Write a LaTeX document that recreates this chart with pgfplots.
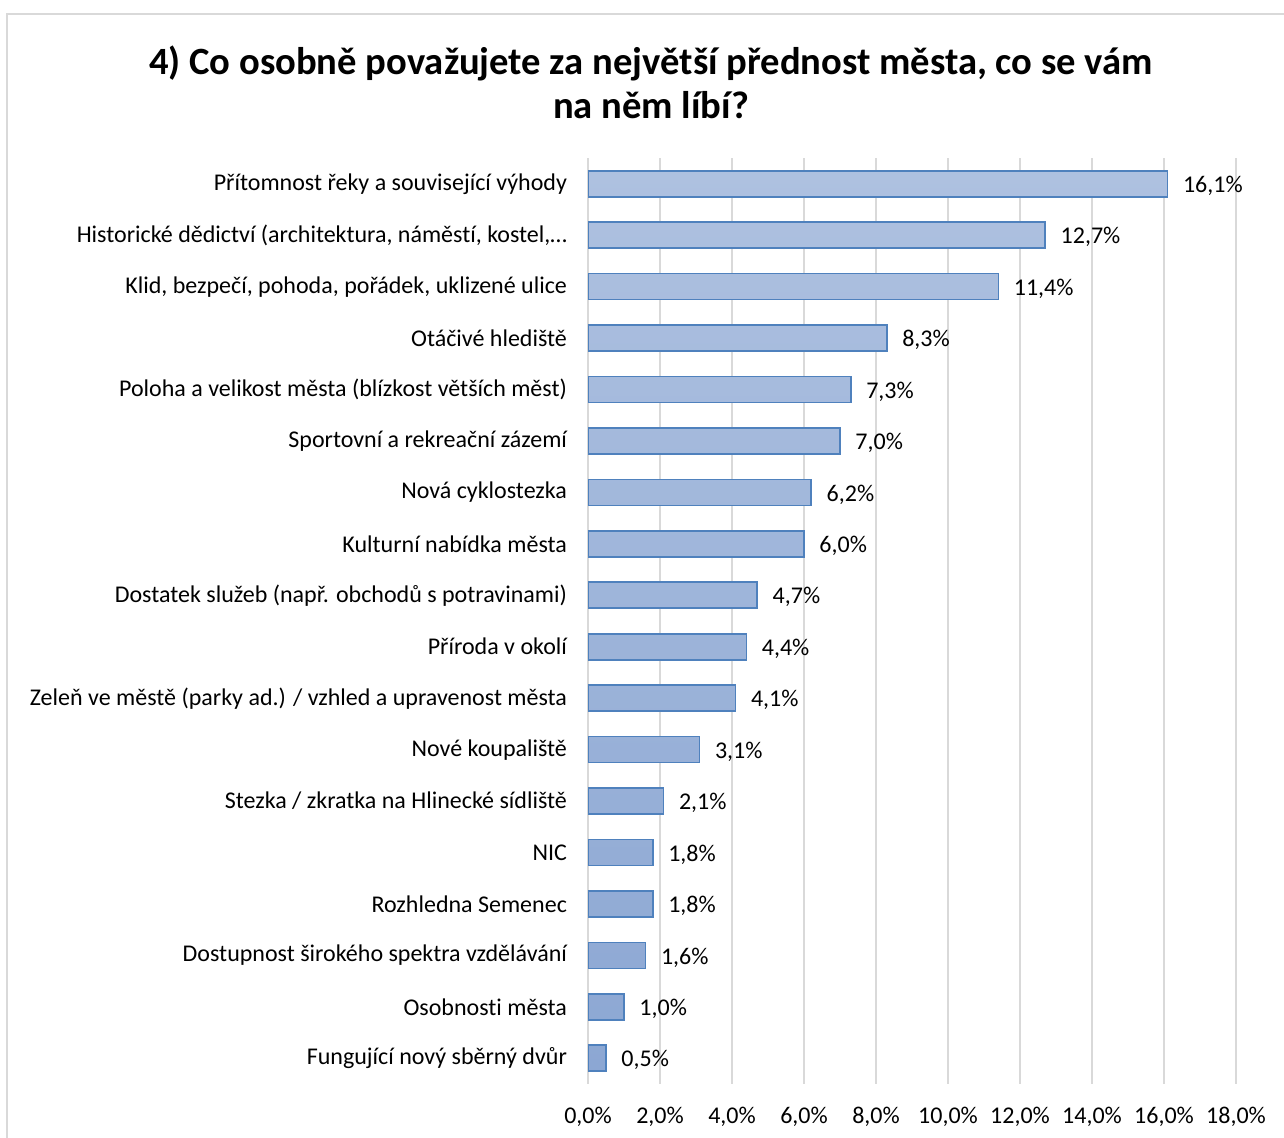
\documentclass[border=0pt]{standalone}
\usepackage{pgfplots}
\pgfplotsset{compat=1.18}
\usepackage{fontspec}
\setmainfont{Carlito}[Ligatures=NoCommon]
\definecolor{barfillA}{HTML}{AEC1E0}
\definecolor{barfillB}{HTML}{8CA7D3}
\definecolor{barline}{HTML}{4F81BD}
\definecolor{gridc}{HTML}{D9D9D9}
\definecolor{framec}{HTML}{D9D9D9}
\begin{document}
\begin{tikzpicture}
\path[use as bounding box] (0pt,0pt) rectangle (642pt,-569pt);
\draw[framec, line width=0.75pt] (3.5pt,-580pt) -- (3.5pt,-7pt) -- (650pt,-7pt);
\node[font=\bfseries\fontsize{19.3}{22}\selectfont, align=center] at (325.5pt,-41pt) {4) Co osobně považujete za největší přednost města, co se vám\\na něm líbí?};
\begin{axis}[
  at={(294pt,-79pt)}, anchor=north west,
  scale only axis, width=324pt, height=463pt,
  xmin=0, xmax=18, ymin=-0.5, ymax=17.5,
  y dir=reverse,
  xtick={0,2,...,18},
  ytick={0,...,17},
  yticklabels={
    {Přítomnost řeky a související výhody},
    {Historické dědictví (architektura, náměstí, kostel,…},
    {Klid, bezpečí, pohoda, pořádek, uklizené ulice},
    {Otáčivé hlediště},
    {Poloha a velikost města (blízkost větších měst)},
    {Sportovní a rekreační zázemí},
    {Nová cyklostezka},
    {Kulturní nabídka města},
    {Dostatek služeb (např. obchodů s potravinami)},
    {Příroda v okolí},
    {Zeleň ve městě (parky ad.) / vzhled a upravenost města},
    {Nové koupaliště},
    {Stezka / zkratka na Hlinecké sídliště},
    {NIC},
    {Rozhledna Semenec},
    {Dostupnost širokého spektra vzdělávání},
    {Osobnosti města},
    {Fungující nový sběrný dvůr}},
  axis line style={draw=none},
  major tick length=0pt,
  xmajorgrids, grid style={gridc, line width=0.6pt},
  /pgf/number format/assume math mode=true,
  xticklabel={\pgfmathprintnumber[fixed, fixed zerofill, precision=1, use comma]{\tick}\%},
  xticklabel style={font=\fontsize{12}{14}\selectfont, yshift=-8pt},
  yticklabel style={font=\fontsize{12}{14}\selectfont, xshift=-7pt},
  nodes near coords={\pgfmathprintnumber[fixed, fixed zerofill, precision=1, use comma, assume math mode=true]{\pgfplotspointmeta}\%},
  nodes near coords style={font=\fontsize{12}{14}\selectfont, anchor=west, xshift=4pt, yshift=-1pt, text=black},
  point meta=x,
]
\addplot[xbar, bar width=13pt, draw=barline, line width=0.8pt, top color=barfillA, bottom color=barfillB] coordinates {
(16.1,0) (12.7,1) (11.4,2) (8.3,3) (7.3,4) (7.0,5) (6.2,6) (6.0,7) (4.7,8)
(4.4,9) (4.1,10) (3.1,11) (2.1,12) (1.8,13) (1.8,14) (1.6,15) (1.0,16) (0.5,17)
};
\end{axis}
\end{tikzpicture}
\end{document}
